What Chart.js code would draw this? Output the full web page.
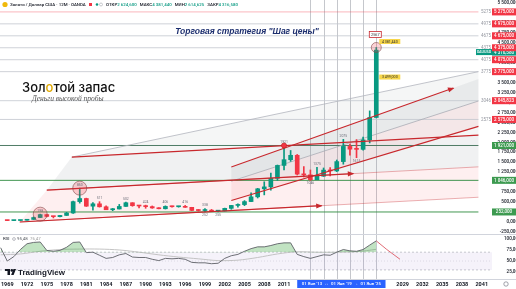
<!DOCTYPE html>
<html lang="ru">
<head>
<meta charset="utf-8">
<title>XAUUSD 12M</title>
<script src="https://cdn.jsdelivr.net/npm/chart.js@4/dist/chart.umd.min.js"></script>
<style>
  html, body { margin: 0; padding: 0; background: #fff; }
  canvas { display: block; }
</style>
</head>
<body>
<canvas id="chart" width="516" height="289"></canvas>
<script>
// годовые свечи XAUUSD (OANDA, 12M)
const years = [1969, 1970, 1971, 1972, 1973, 1974, 1975, 1976, 1977, 1978,
  1979, 1980, 1981, 1982, 1983, 1984, 1985, 1986, 1987, 1988,
  1989, 1990, 1991, 1992, 1993, 1994, 1995, 1996, 1997, 1998,
  1999, 2000, 2001, 2002, 2003, 2004, 2005, 2006, 2007, 2008,
  2009, 2010, 2011, 2012, 2013, 2014, 2015, 2016, 2017, 2018,
  2019, 2020, 2021, 2022, 2023, 2024, 2025];
const opens = [43.2, 35.2, 37.4, 43.6, 64.9, 112.3, 186.5, 140.3, 134.5, 164.9,
  226.0, 512.0, 589.8, 397.5, 456.9, 382.4, 308.3, 326.8, 390.9, 484.1,
  410.2, 401.0, 386.2, 353.2, 333.0, 391.8, 383.3, 387.0, 369.0, 290.2,
  287.8, 290.3, 272.7, 278.7, 342.8, 416.3, 437.5, 513.0, 632.0, 834.0,
  882.0, 1096.0, 1421.0, 1565.0, 1675.0, 1202.0, 1184.0, 1061.0, 1151.0, 1303.0,
  1282.0, 1517.0, 1898.0, 1829.0, 1824.0, 2063.0, 2624.6];
const highs = [43.8, 39.2, 44.6, 70.0, 127.0, 197.5, 186.5, 140.4, 168.2, 243.7,
  524.0, 850.0, 599.0, 488.0, 511.0, 406.0, 341.0, 442.0, 502.0, 485.0,
  418.0, 424.0, 403.0, 360.0, 406.0, 397.0, 396.0, 416.0, 369.5, 313.0,
  338.0, 316.0, 294.0, 349.0, 417.0, 456.0, 538.0, 730.0, 845.0, 1011.0,
  1227.0, 1431.0, 1921.0, 1796.0, 1696.0, 1392.0, 1307.0, 1375.0, 1357.0, 1366.0,
  1557.0, 2075.0, 1959.0, 2070.0, 2135.0, 2790.0, 4381.4];
const lows = [35.0, 34.8, 37.3, 43.5, 64.1, 112.0, 128.8, 103.0, 129.4, 164.9,
  216.6, 474.0, 391.0, 296.0, 374.0, 307.0, 284.0, 326.0, 390.0, 395.0,
  356.0, 345.0, 344.0, 330.0, 326.0, 370.0, 372.0, 367.0, 283.0, 273.0,
  252.0, 263.0, 255.0, 277.0, 319.0, 374.0, 411.0, 513.0, 603.0, 681.0,
  802.0, 1044.0, 1308.0, 1523.0, 1180.0, 1131.0, 1046.0, 1061.0, 1146.0, 1160.0,
  1266.0, 1451.0, 1677.0, 1615.0, 1805.0, 1985.0, 2614.6];
const closes = [35.2, 37.4, 43.6, 64.9, 112.3, 186.5, 140.3, 134.5, 164.9, 226.0,
  512.0, 589.8, 397.5, 456.9, 382.4, 308.3, 326.8, 390.9, 484.1, 410.2,
  401.0, 386.2, 353.2, 333.0, 391.8, 383.3, 387.0, 369.0, 290.2, 287.8,
  290.3, 272.7, 278.7, 342.8, 416.3, 437.5, 513.0, 632.0, 834.0, 882.0,
  1096.0, 1421.0, 1565.0, 1675.0, 1202.0, 1184.0, 1061.0, 1151.0, 1303.0, 1282.0,
  1517.0, 1898.0, 1829.0, 1824.0, 2063.0, 2624.0, 4316.6];

// RSI и его скользящая
const rsiYears = [1968, 1969, 1970, 1971, 1972, 1973, 1974, 1975, 1976, 1977, 1978,
  1979, 1980, 1981, 1982, 1983, 1984, 1985, 1986, 1987, 1988,
  1989, 1990, 1991, 1992, 1993, 1994, 1995, 1996, 1997, 1998,
  1999, 2000, 2001, 2002, 2003, 2004, 2005, 2006, 2007, 2008,
  2009, 2010, 2011, 2012, 2013, 2014, 2015, 2016, 2017, 2018,
  2019, 2020, 2021, 2022, 2023, 2024, 2025];
const rsiValues = [80, 50, 60, 76, 89, 92, 93, 74, 72, 74, 81,
  92, 93, 69, 70, 63, 56, 58, 64, 67, 59,
  58, 58, 54, 51, 56, 55, 56, 54, 47, 46,
  46, 44, 45, 56, 62, 65, 72, 78, 82, 82,
  85, 89, 91, 91, 65, 60, 56, 60, 64, 63,
  70, 76, 73, 72, 76, 86, 95.48];
const rsiMaYears = [1968, 1971, 1974, 1977, 1980, 1983, 1986, 1989, 1992, 1995,
  1998, 2001, 2004, 2007, 2010, 2013, 2016, 2019, 2022, 2025];
const rsiMaValues = [64, 66, 72, 76, 77, 77, 75, 70, 64, 59,
  55, 51, 52, 58, 66, 71, 70, 70, 71, 76.47];
const rsiProjection = [[2025, 95.48], [2026.6, 76], [2028.6, 54]];

// шкалы
const priceTicks = [-250, 0, 250, 500, 750, 1000, 1250, 1500, 1750, 2000, 2250, 2500,
  2750, 3000, 3250, 3500, 3750, 4000, 4250, 4500, 4750, 5000, 5250, 5500];
const rsiTicks = [25, 50, 75, 100];
const yearTicks = [1969, 1972, 1975, 1978, 1981, 1984, 1987, 1990, 1993, 1996, 1999,
  2002, 2005, 2008, 2011, 2029, 2032, 2035, 2038, 2041];

// уровни "шага цены" и поддержки
const redLevels = [5275, 4975, 4675, 4375, 4075, 3775, 3045.823, 2575];
const greenLevels = [1921, 1046, 252];
const lastPrice = 4316.58;
const rangeYears = [2015, 2017, 2019, 2021, 2023, 2025];

// вилы 1970-х
const fork1Low = [[1970.9, 0], [2040.5, 622]];
const fork1Mid = [[1975.0, 800], [2040.5, 1385]];
const fork1High = [[1978.8, 1630], [2040.5, 2181]];
const fan1Top = [[1978.8, 1630], [2040.5, 3775]];
const arrowLow = [[1970.9, 0], [2016.7, 409]];
const arrowMid = [[1975.0, 800], [2021.5, 1215]];
// канал с 2003 года
const chanTop = [[2003.0, 1380], [2036.7, 3364]];
const chanMid = [[2003.0, 1024], [2040.5, 3038]];
const chanLow = [[2003.0, 540], [2040.5, 2400]];
// отметки экстремумов
const circleMarks = [[1974, 197.5], [1980, 850], [2025, 4381.4]];
const dotMarks = [[2011, 1921]];

const X_MIN = 1967.9, X_MAX = 2046.2;
const LINE_END = 2040.5;
const RED = '#c8282d';

const pts = arr => arr.map(p => ({x: p[0], y: p[1]}));
const up = i => closes[i] >= opens[i];
const candleColors = years.map((y, i) => up(i) ? '#089981' : '#f23645');

function lineDs(arr, color, width, extra) {
  return Object.assign({
    type: 'line', data: pts(arr), borderColor: color, borderWidth: width,
    pointRadius: 0, fill: false, tension: 0, yAxisID: 'y', order: 4
  }, extra || {});
}
function polyDs(arr, color) {
  return {
    type: 'line', data: pts(arr), borderWidth: 0, borderColor: 'rgba(0,0,0,0)',
    backgroundColor: color, fill: 'shape', pointRadius: 0, tension: 0, yAxisID: 'y', order: 20
  };
}

const levelDatasets = redLevels.map(v => lineDs([[X_MIN, v], [LINE_END, v]],
  v === 5275 ? 'rgba(242,54,69,0.45)' : '#c3c6ce', 0.8, {order: 15}))
  .concat(greenLevels.map(v => lineDs([[X_MIN, v], [LINE_END, v]],
    v === 1921 ? '#3c6e55' : '#2e8b3e', 0.9, {order: 15})));

const fmtPrice = v => {
  const s = Math.abs(v).toFixed(3).split('.');
  return (v < 0 ? '-' : '') + s[0].replace(/\B(?=(\d{3})+(?!\d))/g, ' ') + ',' + s[1];
};

const datasets = [
  polyDs([fan1Top[0], fan1Top[1], fork1High[1]], 'rgba(120,123,134,0.07)'),
  polyDs([fork1Mid[0], fork1High[0], fork1High[1], fork1Mid[1]], 'rgba(120,123,134,0.11)'),
  polyDs([fork1Low[0], fork1Mid[0], fork1Mid[1], fork1Low[1]], 'rgba(242,54,69,0.08)'),
  polyDs([chanTop[0], [LINE_END, 3588], chanMid[1], chanMid[0]], 'rgba(120,123,134,0.10)'),
  polyDs([chanMid[0], chanMid[1], chanLow[1], chanLow[0]], 'rgba(242,54,69,0.08)'),
  ...levelDatasets,
  lineDs(fan1Top, '#b2b5be', 0.8, {order: 6}),
  lineDs(fork1Low, 'rgba(200,40,45,0.45)', 0.8, {order: 6}),
  lineDs(fork1Mid, 'rgba(200,40,45,0.45)', 0.8, {order: 6}),
  lineDs(chanMid, '#a9acb5', 0.8, {order: 6}),
  lineDs(fork1High, RED, 1.2, {order: 0}),
  lineDs(arrowLow, RED, 1.2, {order: 0, arrow: true}),
  lineDs(arrowMid, RED, 1.2, {order: 0, arrow: true}),
  lineDs(chanTop, RED, 1.2, {order: 0, arrow: true}),
  lineDs(chanLow, RED, 1.2, {order: 0}),
  {
    type: 'bar', label: 'wick', yAxisID: 'y', order: 3, grouped: false,
    data: years.map((y, i) => ({x: y, y: [lows[i], highs[i]]})),
    backgroundColor: candleColors, barThickness: 1
  },
  {
    type: 'bar', label: 'body', yAxisID: 'y', order: 2, grouped: false, minBarLength: 1,
    data: years.map((y, i) => ({x: y, y: [Math.min(opens[i], closes[i]), Math.max(opens[i], closes[i])]})),
    backgroundColor: candleColors, barThickness: 4
  },
  {
    type: 'line', yAxisID: 'y', order: -1, showLine: false, data: pts(circleMarks),
    pointRadius: [7, 7, 5], pointBackgroundColor: 'rgba(242,54,69,0.22)',
    pointBorderColor: 'rgba(130,70,70,0.75)', pointBorderWidth: 0.8
  },
  {
    type: 'line', yAxisID: 'y', order: -1, showLine: false, data: pts(dotMarks),
    pointRadius: 2.6, pointBackgroundColor: '#f23645', pointBorderColor: '#b71c1c', pointBorderWidth: 0.6
  },
  // RSI
  {
    type: 'line', yAxisID: 'yr', order: 12, data: pts([[X_MIN, 70], [X_MAX, 70]]),
    borderColor: '#a3a6af', borderWidth: 0.6, borderDash: [2, 2], pointRadius: 0,
    fill: {target: {value: 30}, above: 'rgba(126,87,194,0.08)', below: 'rgba(0,0,0,0)'}
  },
  {
    type: 'line', yAxisID: 'yr', order: 12, data: pts([[X_MIN, 30], [X_MAX, 30]]),
    borderColor: '#a3a6af', borderWidth: 0.6, borderDash: [2, 2], pointRadius: 0, fill: false
  },
  {
    type: 'line', yAxisID: 'yr', order: 12, data: pts([[X_MIN, 50], [X_MAX, 50]]),
    borderColor: 'rgba(163,166,175,0.6)', borderWidth: 0.5, borderDash: [1, 2], pointRadius: 0, fill: false
  },
  {
    type: 'line', yAxisID: 'yr', order: 9, data: rsiMaYears.map((y, i) => ({x: y, y: rsiMaValues[i]})),
    borderColor: '#bdbdbd', borderWidth: 0.9, pointRadius: 0, tension: 0.3, fill: false
  },
  {
    type: 'line', yAxisID: 'yr', order: 8, data: rsiYears.map((y, i) => ({x: y, y: rsiValues[i]})),
    borderColor: '#5d6066', borderWidth: 0.9, pointRadius: 0, tension: 0,
    fill: {target: {value: 70}, above: 'rgba(76,175,80,0.35)', below: 'rgba(0,0,0,0)'}
  },
  {
    type: 'line', yAxisID: 'yr', order: 8, data: pts(rsiProjection),
    borderColor: '#e06b75', borderWidth: 1, pointRadius: 0, fill: false
  }
];

function box(ctx, x, y, w, h, bg, text, fg, font) {
  ctx.fillStyle = bg;
  ctx.fillRect(x, y - h / 2, w, h);
  ctx.fillStyle = fg;
  ctx.font = font;
  ctx.textAlign = 'center';
  ctx.textBaseline = 'middle';
  ctx.fillText(text, x + w / 2, y + 0.4);
}

const decor = {
  id: 'decor',
  beforeDatasetsDraw(chart) {
    const {ctx} = chart;
    const xs = chart.scales.x, yr = chart.scales.yr;
    ctx.save();
    ctx.strokeStyle = 'rgba(150,153,162,0.55)';
    ctx.lineWidth = 1;
    rangeYears.forEach(v => {
      const px = Math.round(xs.getPixelForValue(v)) + 0.5;
      ctx.beginPath(); ctx.moveTo(px, 0); ctx.lineTo(px, yr.bottom); ctx.stroke();
    });
    ctx.restore();
  },
  afterDatasetsDraw(chart) {
    const {ctx} = chart;
    const y = chart.scales.y, yr = chart.scales.yr, xs = chart.scales.x;
    ctx.save();
    // стрелки
    chart.data.datasets.forEach((ds, i) => {
      if (!ds.arrow) return;
      const d = chart.getDatasetMeta(i).data;
      const a = d[d.length - 2], b = d[d.length - 1];
      const ang = Math.atan2(b.y - a.y, b.x - a.x);
      ctx.fillStyle = ds.borderColor;
      ctx.beginPath();
      ctx.moveTo(b.x + 1, b.y);
      ctx.lineTo(b.x - 6 * Math.cos(ang - 0.45), b.y - 6 * Math.sin(ang - 0.45));
      ctx.lineTo(b.x - 6 * Math.cos(ang + 0.45), b.y - 6 * Math.sin(ang + 0.45));
      ctx.closePath(); ctx.fill();
    });
    // значения экстремумов над/под свечами
    ctx.font = '3.4px Roboto'; ctx.fillStyle = '#6a6d78'; ctx.textAlign = 'center';
    years.forEach((yy, i) => {
      if (i === 0 || i === years.length - 1) return;
      const px = xs.getPixelForValue(yy);
      if (highs[i] >= highs[i - 1] && highs[i] >= highs[i + 1]) {
        ctx.textBaseline = 'bottom';
        ctx.fillText(String(Math.round(highs[i])), px, y.getPixelForValue(highs[i]) - 1.5);
      }
      if (lows[i] <= lows[i - 1] && lows[i] <= lows[i + 1] && yy > 1995) {
        ctx.textBaseline = 'top';
        ctx.fillText(String(Math.round(lows[i])), px, y.getPixelForValue(lows[i]) + 1.5);
      }
    });
    // колонка шкалы
    ctx.fillStyle = '#fff';
    ctx.fillRect(492, 0, 24, yr.bottom);
    // разделители панелей
    ctx.strokeStyle = '#d1d4dc'; ctx.lineWidth = 1;
    ctx.beginPath(); ctx.moveTo(0, Math.round(y.bottom) + 0.5); ctx.lineTo(516, Math.round(y.bottom) + 0.5); ctx.stroke();
    ctx.beginPath(); ctx.moveTo(0, Math.round(yr.bottom) + 0.5); ctx.lineTo(516, Math.round(yr.bottom) + 0.5); ctx.stroke();

    // подписи уровней
    ctx.font = '4.5px Roboto'; ctx.textAlign = 'right'; ctx.textBaseline = 'middle';
    ctx.fillStyle = '#9598a1';
    redLevels.forEach(v => ctx.fillText(String(Math.round(v)), 491, y.getPixelForValue(v)));

    // логотип
    ctx.fillStyle = '#fff';
    ctx.fillRect(17, 75, 104, 25);
    ctx.textAlign = 'left'; ctx.textBaseline = 'alphabetic';
    ctx.font = '500 13px Inter';
    let tx = 22;
    [['Зол', '#111'], ['о', '#e0a800'], ['той запас', '#111']].forEach(([t, c]) => {
      ctx.fillStyle = c; ctx.fillText(t, tx, 92); tx += ctx.measureText(t).width;
    });
    ctx.font = 'italic 7.5px "Liberation Serif"';
    ctx.fillStyle = '#555';
    ctx.fillText('Деньги высокой пробы', 32, 101);

    // заголовок стратегии
    ctx.font = 'italic bold 8.5px "Liberation Sans"';
    ctx.fillStyle = '#1c2e6e';
    ctx.textAlign = 'center';
    ctx.fillText('Торговая стратегия "Шаг цены"', 247, 34);

    // шапка
    ctx.textAlign = 'left'; ctx.textBaseline = 'middle';
    ctx.fillStyle = '#f0b90b';
    ctx.beginPath(); ctx.arc(5, 4.5, 2.6, 0, Math.PI * 2); ctx.fill();
    ctx.font = '500 4.4px Roboto'; ctx.fillStyle = '#131722';
    ctx.fillText('Золото / Доллар США · 12M · OANDA', 10, 4.8);
    ctx.fillStyle = '#f23645'; ctx.fillRect(89, 3, 3, 3);
    ctx.fillStyle = '#089981'; ctx.beginPath(); ctx.arc(97, 4.5, 1.3, 0, Math.PI * 2); ctx.fill();
    ctx.strokeStyle = '#9598a1'; ctx.lineWidth = 0.5;
    ctx.beginPath(); ctx.arc(101, 4.5, 1.5, 0, Math.PI * 2); ctx.stroke();
    let hx = 106;
    [['ОТКР', '2 624,600'], ['МАКС', '4 381,440'], ['МИН', '2 614,625'], ['ЗАКР', '4 316,580']].forEach(([k, v]) => {
      ctx.fillStyle = '#131722'; ctx.fillText(k, hx, 4.8); hx += ctx.measureText(k).width;
      ctx.fillStyle = '#089981'; ctx.fillText(v, hx, 4.8); hx += ctx.measureText(v).width + 3;
    });

    // подписи у вершины 2025
    const x25 = xs.getPixelForValue(2025), yTop = y.getPixelForValue(4381.4);
    ctx.strokeStyle = '#c8282d'; ctx.lineWidth = 0.8;
    ctx.fillStyle = '#fff';
    ctx.fillRect(x25 - 7, yTop - 16, 12, 6); ctx.strokeRect(x25 - 7, yTop - 16, 12, 6);
    ctx.fillStyle = '#333'; ctx.font = '3.8px Roboto'; ctx.textAlign = 'center';
    ctx.fillText('2567', x25 - 1, yTop - 12.8);
    box(ctx, x25 + 3, yTop - 6, 21, 5, '#f7d64a', '4 381,440', '#333', '3.6px Roboto');
    box(ctx, x25 + 3, y.getPixelForValue(3640), 21, 5, '#f7d64a', '3 499,000', '#333', '3.6px Roboto');

    // RSI подписи
    ctx.textAlign = 'left'; ctx.font = '4.4px Roboto';
    ctx.fillStyle = '#131722'; ctx.fillText('RSI', 3, yr.top + 5);
    ctx.strokeStyle = '#787b86'; ctx.lineWidth = 0.5;
    ctx.beginPath(); ctx.arc(14, yr.top + 5, 1.4, 0, Math.PI * 2); ctx.stroke();
    ctx.fillStyle = '#5d6066'; ctx.fillText('95,48', 17, yr.top + 5);
    ctx.fillStyle = '#9e9e9e'; ctx.fillText('76,47', 30, yr.top + 5);

    // логотип TradingView
    ctx.fillStyle = '#131722';
    const ly = yr.bottom - 7;
    ctx.fillRect(5, ly - 3, 5, 2);
    ctx.fillRect(7.5, ly - 3, 2.5, 6);
    ctx.beginPath(); ctx.arc(11.8, ly - 1.6, 1.3, 0, Math.PI * 2); ctx.fill();
    ctx.beginPath(); ctx.moveTo(13.5, ly - 3); ctx.lineTo(16, ly - 3); ctx.lineTo(13.6, ly + 3); ctx.lineTo(11.1, ly + 3); ctx.closePath(); ctx.fill();
    ctx.font = 'bold 8px "Liberation Sans"';
    ctx.textBaseline = 'middle';
    ctx.fillText('TradingView', 18, ly + 0.3);
    ctx.restore();
  },
  afterDraw(chart) {
    const {ctx} = chart;
    const y = chart.scales.y, xs = chart.scales.x;
    ctx.save();
    const f = '500 4.5px Roboto';
    const yl = y.getPixelForValue(lastPrice);
    box(ctx, 492, yl + 2, 24, 7, '#089981', fmtPrice(lastPrice), '#fff', f);
    box(ctx, 476, yl + 2, 16, 6, '#089981', 'XAUUSD', '#fff', '500 3.8px Roboto');
    redLevels.forEach(v => box(ctx, 492, y.getPixelForValue(v), 24, 7, '#f23645', fmtPrice(v), '#fff', f));
    greenLevels.forEach(v => box(ctx, 492, y.getPixelForValue(v), 24, 7, '#3d9a50', fmtPrice(v), '#fff', f));

    // диапазон дат
    const bx0 = xs.getPixelForValue(2013), bx1 = xs.getPixelForValue(2026.4);
    const by = xs.top + 5;
    box(ctx, bx0, by, bx1 - bx0, 8, '#2962ff', "01 Янв '13  \u2194  01 Янв '19  \u2192  01 Янв '25", '#fff', '500 4.4px Roboto');
    // шестерёнка
    ctx.strokeStyle = '#787b86'; ctx.lineWidth = 0.7;
    ctx.beginPath(); ctx.arc(506, by, 2.2, 0, Math.PI * 2); ctx.stroke();
    ctx.restore();
  }
};

new Chart(document.getElementById('chart'), {
  type: 'line',
  data: {datasets: datasets},
  options: {
    responsive: false,
    devicePixelRatio: 1,
    animation: false,
    layout: {padding: 0, autoPadding: false},
    plugins: {legend: {display: false}, tooltip: {enabled: false}, title: {display: false}},
    scales: {
      x: {
        type: 'linear', position: 'bottom', min: X_MIN, max: X_MAX, offset: false,
        grid: {display: false, drawTicks: false}, border: {display: false},
        afterBuildTicks: s => { s.ticks = yearTicks.map(v => ({value: v})); },
        afterFit: s => { s.height = 10; s.paddingLeft = 0; s.paddingRight = 0; },
        ticks: {autoSkip: false, maxRotation: 0, padding: 2, color: '#131722',
          font: {family: 'Roboto', size: 5.5, weight: 'bold'}, callback: v => String(v)}
      },
      y: {
        type: 'linear', position: 'right', stack: 'pane', stackWeight: 234, min: -301, max: 5574,
        grid: {display: false, drawTicks: false}, border: {display: false},
        afterBuildTicks: s => { s.ticks = priceTicks.map(v => ({value: v})); },
        afterFit: s => { s.width = 0; s.paddingTop = 0; s.paddingBottom = 0; },
        ticks: {z: 1, mirror: true, padding: 2, autoSkip: false, color: '#131722',
          font: {family: 'Roboto', size: 4.6, weight: '500'}, callback: v => fmtPrice(v)}
      },
      yr: {
        type: 'linear', position: 'right', stack: 'pane', stackWeight: 45, min: 9.5, max: 111,
        grid: {display: false, drawTicks: false}, border: {display: false},
        afterBuildTicks: s => { s.ticks = rsiTicks.map(v => ({value: v})); },
        afterFit: s => { s.width = 0; s.paddingTop = 0; s.paddingBottom = 0; },
        ticks: {z: 1, mirror: true, padding: 2, autoSkip: false, color: '#131722',
          font: {family: 'Roboto', size: 4.6, weight: '500'}, callback: v => v.toFixed(2).replace('.', ',')}
      }
    }
  },
  plugins: [decor]
});
</script>
</body>
</html>
